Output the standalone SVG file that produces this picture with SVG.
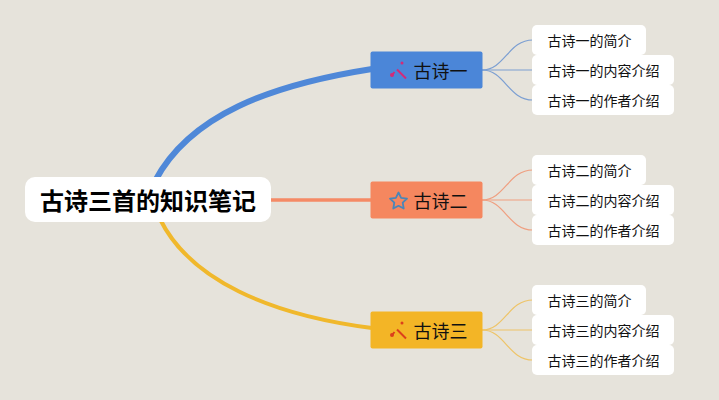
<svg xmlns="http://www.w3.org/2000/svg" width="719" height="400" viewBox="0 0 719 400">
<style>
text{font-family:"Noto Sans CJK SC","Liberation Sans",sans-serif;fill:#111}
.leaf rect{fill:#fff}
.leaf text{font-size:14px;text-anchor:start}
.mid text{font-size:18px}
.c{fill:none;stroke-linecap:butt}
.t{stroke-width:1.2}
</style>
<rect width="719" height="400" fill="#e6e3db"/>
<g id="connectors">
<path class="c" d="M155 181C190 115 270 85 372 69" stroke="#4f88d8" stroke-width="6"/>
<path class="c" d="M270 200H372" stroke="#f58a66" stroke-width="3.500"/>
<path class="c" d="M160 219C190 280 270 315 372 328" stroke="#f0b82c" stroke-width="4"/>
<g stroke="#7c9fd2">
<path class="c t" d="M482 70C505 70 508 40 533 40"/><path class="c t" d="M482 70H533"/><path class="c t" d="M482 70C505 70 508 100 533 100"/>
</g>
<g stroke="#ef9f80">
<path class="c t" d="M482 200C505 200 508 170 533 170"/><path class="c t" d="M482 200H533"/><path class="c t" d="M482 200C505 200 508 230 533 230"/>
</g>
<g stroke="#eec468">
<path class="c t" d="M482 330C505 330 508 300 533 300"/><path class="c t" d="M482 330H533"/><path class="c t" d="M482 330C505 330 508 360 533 360"/>
</g>
</g>
<g id="root"><rect x="25" y="177" width="246" height="45" rx="10" fill="#fff"/>
<text x="148" y="210" font-size="24" font-weight="700" text-anchor="middle" style="fill:#000">古诗三首的知识笔记</text></g>
<g id="n1" class="mid"><rect x="370.500" y="51.500" width="112" height="37" rx="2" fill="#4b86d8"/>
<g fill="none" stroke="#d42a78" stroke-width="2"><path d="M397 69.500L406 78.500"/><path d="M392.500 74.500l2-2.500"/></g><circle cx="402" cy="63" r="1.500" fill="#d42a78"/><circle cx="392" cy="75" r="2" fill="#d42a78"/>
<text x="413.500" y="78">古诗一</text></g>
<g id="n2" class="mid"><rect x="370.500" y="181.500" width="112" height="37" rx="2" fill="#f5875f"/>
<path d="M398.500 192.500l2.600 5.300 5.900.8-4.300 4.100 1 5.800-5.200-2.700-5.200 2.700 1-5.800-4.300-4.100 5.900-.8z" fill="none" stroke="#4a86b8" stroke-width="1.800" stroke-linejoin="round"/>
<text x="413.500" y="208">古诗二</text></g>
<g id="n3" class="mid"><rect x="370.500" y="311.500" width="112" height="37" rx="2" fill="#f3b526"/>
<g fill="none" stroke="#dc3f1c" stroke-width="2"><path d="M397 329.500L406 338.500"/><path d="M392.500 334.500l2-2.500"/></g><circle cx="402" cy="323" r="1.500" fill="#dc3f1c"/><circle cx="392" cy="335" r="2" fill="#dc3f1c"/>
<text x="413.500" y="338">古诗三</text></g>
<g id="a1" class="leaf"><rect x="532" y="25" width="114" height="30" rx="5"/><text x="547.500" y="46">古诗一的简介</text></g>
<g id="a2" class="leaf"><rect x="532" y="55" width="142" height="30" rx="5"/><text x="547.500" y="76">古诗一的内容介绍</text></g>
<g id="a3" class="leaf"><rect x="532" y="85" width="142" height="30" rx="5"/><text x="547.500" y="106">古诗一的作者介绍</text></g>
<g id="b1" class="leaf"><rect x="532" y="155" width="114" height="30" rx="5"/><text x="547.500" y="176">古诗二的简介</text></g>
<g id="b2" class="leaf"><rect x="532" y="185" width="142" height="30" rx="5"/><text x="547.500" y="206">古诗二的内容介绍</text></g>
<g id="b3" class="leaf"><rect x="532" y="215" width="142" height="30" rx="5"/><text x="547.500" y="236">古诗二的作者介绍</text></g>
<g id="c1" class="leaf"><rect x="532" y="285" width="114" height="30" rx="5"/><text x="547.500" y="306">古诗三的简介</text></g>
<g id="c2" class="leaf"><rect x="532" y="315" width="142" height="30" rx="5"/><text x="547.500" y="336">古诗三的内容介绍</text></g>
<g id="c3" class="leaf"><rect x="532" y="345" width="142" height="30" rx="5"/><text x="547.500" y="366">古诗三的作者介绍</text></g>
</svg>
